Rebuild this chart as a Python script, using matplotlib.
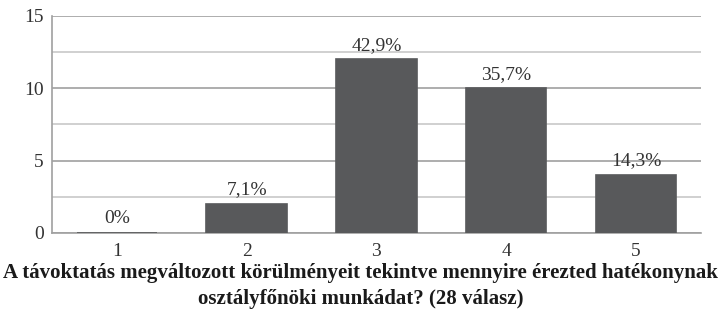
import matplotlib
matplotlib.use('Agg')
from matplotlib import pyplot as plt
from matplotlib.ticker import MultipleLocator

# adatok
categories = ['1', '2', '3', '4', '5']
counts = [0, 2, 12, 10, 4]
total = 28
title_lines = ['A távoktatás megváltozott körülményeit tekintve mennyire érezted hatékonynak',
               'osztályfőnöki munkádat? (28 válasz)']

plt.rcParams['font.family'] = ['Liberation Serif', 'DejaVu Serif']

fig = plt.figure(figsize=(7.21, 3.11), dpi=100)
ax = fig.add_axes([0.072, 0.251, 0.9, 0.698])

x = list(range(len(categories)))
bars = ax.bar(x, counts, width=0.62, color='#58595b', edgecolor='#58595b', linewidth=1.2, zorder=3)

# százalék feliratok
for xi, c in zip(x, counts):
    pct = c / total * 100
    lbl = '0%' if c == 0 else ('%.1f%%' % pct).replace('.', ',')
    ax.annotate(lbl, (xi, c), xytext=(0, 4), textcoords='offset points',
                ha='center', va='bottom', fontsize=14, color='#333333', zorder=4)

ax.set_xlim(-0.5, len(categories) - 0.5)
ax.set_ylim(0, 15)
ax.yaxis.set_major_locator(MultipleLocator(5))
ax.yaxis.set_minor_locator(MultipleLocator(2.5))
ax.grid(axis='y', which='major', color='#a0a0a0', linewidth=1.2, zorder=0)
ax.grid(axis='y', which='minor', color='#c8c8c8', linewidth=1.2, zorder=0)
ax.set_xticks(x)
ax.set_xticklabels(categories)
ax.tick_params(axis='both', which='both', length=0, labelsize=14, colors='#333333')
ax.tick_params(axis='y', pad=6)
ax.tick_params(axis='x', pad=7)

for s in ['top', 'right']:
    ax.spines[s].set_visible(False)
ax.spines['left'].set_color('#a0a0a0')
ax.spines['bottom'].set_color('#a0a0a0')
ax.spines['left'].set_linewidth(1.2)
ax.spines['bottom'].set_linewidth(1.2)
ax.spines['bottom'].set_zorder(2)

fig.text(0.5, 1 - 273 / 311, title_lines[0], ha='center', va='center',
         fontsize=15, fontweight='bold', color='#1a1a1a')
fig.text(0.5, 1 - 299 / 311, title_lines[1], ha='center', va='center',
         fontsize=15, fontweight='bold', color='#1a1a1a')

plt.savefig('out.png', dpi=100)
